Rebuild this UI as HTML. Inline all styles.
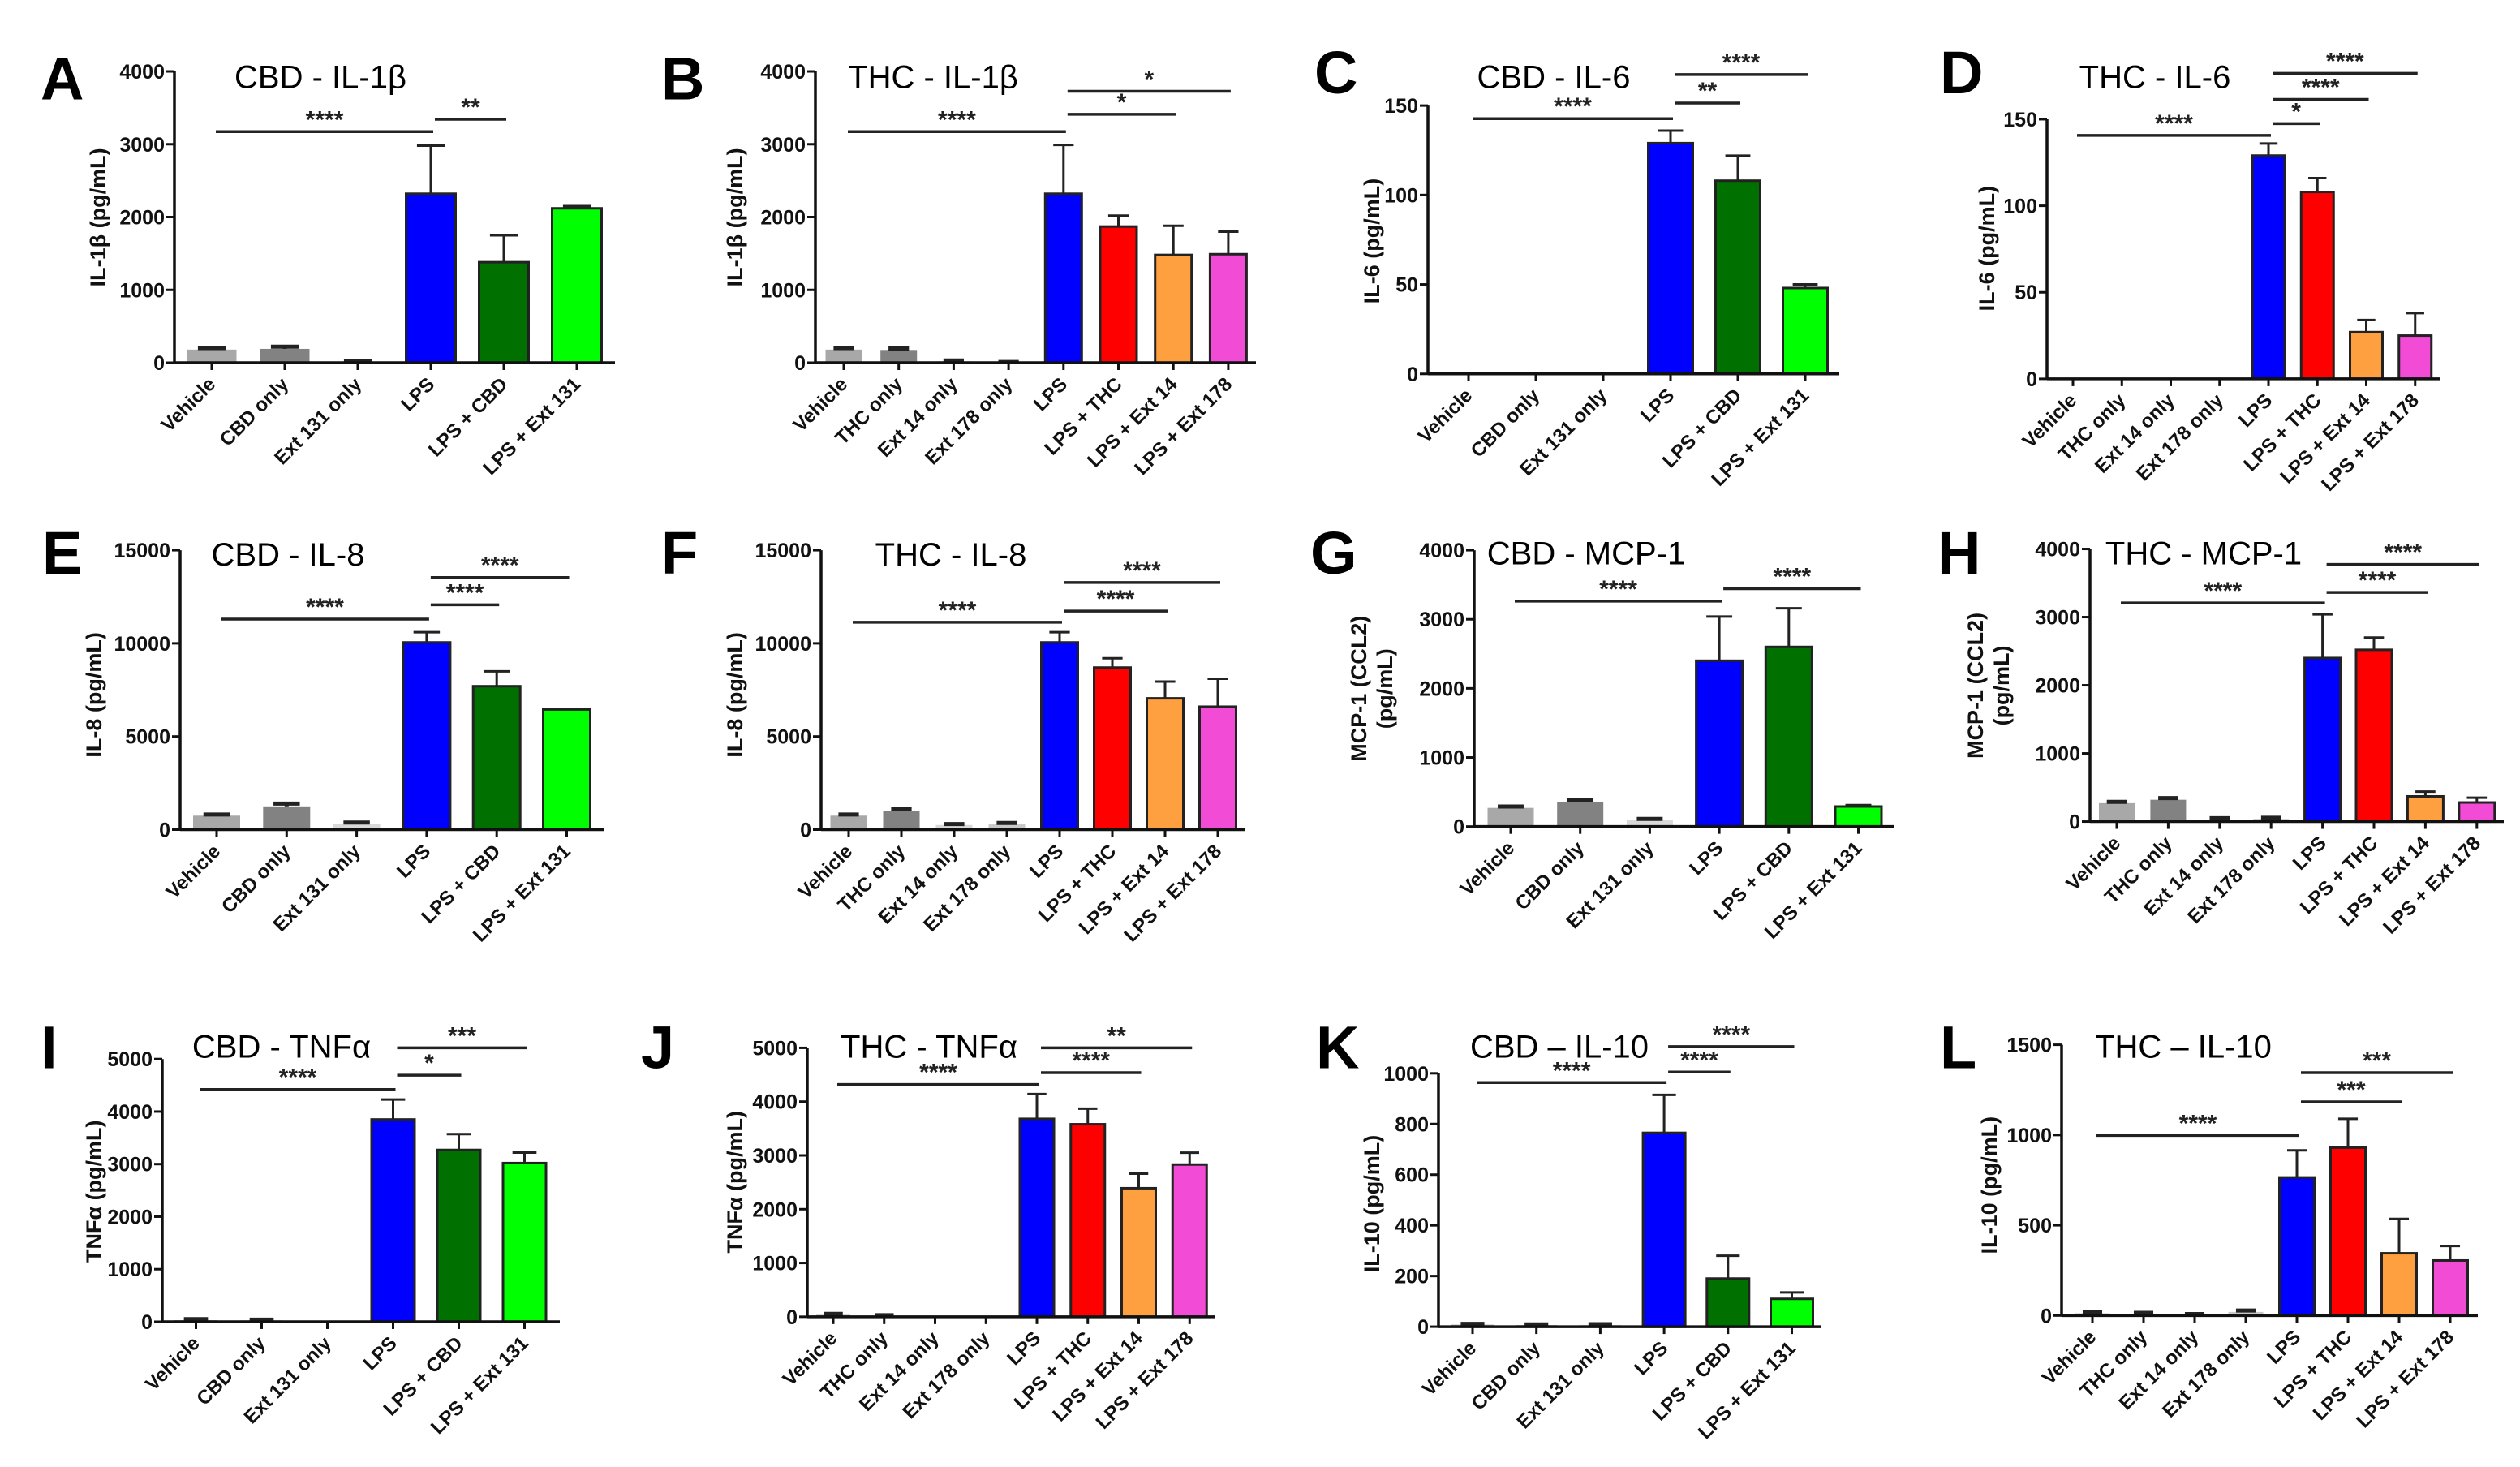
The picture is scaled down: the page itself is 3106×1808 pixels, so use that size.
<!DOCTYPE html>
<html><head><meta charset="utf-8">
<style>
html,body{margin:0;padding:0;background:#fff;overflow:hidden;}
svg{display:block;}
.tick{font-family:"Liberation Sans",sans-serif;font-weight:bold;font-size:25px;fill:#111;}
.xl{font-family:"Liberation Sans",sans-serif;font-weight:bold;font-size:24px;fill:#111;}
.yl{font-family:"Liberation Sans",sans-serif;font-weight:bold;font-size:27px;fill:#111;}
.title{font-family:"Liberation Sans",sans-serif;font-size:40px;fill:#000;}
.letter{font-family:"Liberation Sans",sans-serif;font-weight:bold;font-size:74px;fill:#000;}
.star{font-family:"Liberation Sans",sans-serif;font-weight:bold;font-size:30px;fill:#222;}
</style></head>
<body>
<svg id="fig" width="3106" height="1808" viewBox="0 0 3106 1808" xmlns="http://www.w3.org/2000/svg"></svg>
<script>
// ---- categories ----
const labelsCBD = ["Vehicle","CBD only","Ext 131 only","LPS","LPS + CBD","LPS + Ext 131"];
const labelsTHC = ["Vehicle","THC only","Ext 14 only","Ext 178 only","LPS","LPS + THC","LPS + Ext 14","LPS + Ext 178"];
const colorsCBD = ["#a8a8a8","#828282","#d9d9d9","#0000ff","#007000","#00ff00"];
const colorsTHC = ["#a8a8a8","#828282","#d9d9d9","#c8c8c8","#0000ff","#ff0000","#ffa040","#f24bd6"];

// ---- series values (means) and errors (SEM, upward) ----
const valuesA = [180,190,15,2320,1380,2120];
const errorsA = [20,30,10,660,370,30];
const ticksA = [0,1000,2000,3000,4000];
const sigA = [[0,3,"****"],[3,4,"**"]];

const valuesB = [180,175,20,5,2320,1870,1480,1490];
const errorsB = [20,20,10,5,670,150,400,310];
const ticksB = [0,1000,2000,3000,4000];
const sigB = [[0,4,"****"],[4,6,"*"],[4,7,"*"]];

const valuesC = [0.5,0.5,0.5,129,108,48];
const errorsC = [0,0,0,7,14,2];
const ticksC = [0,50,100,150];
const sigC = [[0,3,"****"],[3,4,"**"],[3,5,"****"]];

const valuesD = [0.5,0.5,0.5,0.5,129,108,27,25];
const errorsD = [0,0,0,0,7,8,7,13];
const ticksD = [0,50,100,150];
const sigD = [[0,4,"****"],[4,5,"*"],[4,6,"****"],[4,7,"****"]];

const valuesE = [750,1250,320,10050,7700,6450];
const errorsE = [60,150,60,550,800,30];
const ticksE = [0,5000,10000,15000];
const sigE = [[0,3,"****"],[3,4,"****"],[3,5,"****"]];

const valuesF = [750,1000,250,280,10050,8700,7050,6600];
const errorsF = [60,100,50,80,550,500,900,1500];
const ticksF = [0,5000,10000,15000];
const sigF = [[0,4,"****"],[4,6,"****"],[4,7,"****"]];

const valuesG = [270,360,100,2400,2600,290];
const errorsG = [20,30,10,640,560,20];
const ticksG = [0,1000,2000,3000,4000];
const sigG = [[0,3,"****"],[3,5,"****"]];

const valuesH = [270,320,30,40,2400,2520,370,280];
const errorsH = [20,25,20,15,640,180,70,70];
const ticksH = [0,1000,2000,3000,4000];
const sigH = [[0,4,"****"],[4,6,"****"],[4,7,"****"]];

const valuesI = [30,25,0,3850,3270,3020];
const errorsI = [20,15,0,380,300,200];
const ticksI = [0,1000,2000,3000,4000,5000];
const sigI = [[0,3,"****"],[3,4,"*"],[3,5,"***"]];

const valuesJ = [35,20,0,0,3680,3580,2390,2830];
const errorsJ = [20,10,0,0,460,290,270,220];
const ticksJ = [0,1000,2000,3000,4000,5000];
const sigJ = [[0,4,"****"],[4,6,"****"],[4,7,"**"]];

const valuesK = [8,6,7,765,190,110];
const errorsK = [3,3,3,150,90,25];
const ticksK = [0,200,400,600,800,1000];
const sigK = [[0,3,"****"],[3,4,"****"],[3,5,"****"]];

const valuesL = [12,10,5,20,765,930,345,305];
const errorsL = [5,5,3,8,150,160,190,80];
const ticksL = [0,500,1000,1500];
const sigL = [[0,4,"****"],[4,6,"***"],[4,7,"***"]];

// ---- layout (pixel geometry only; vertical values measured on a stretched grid, corrected below) ----
const panels = [
 {id:"A",oy:0,title:"CBD - IL-1\u03b2",ylab:["IL-1\u03b2  (pg/mL)"],vals:valuesA,errs:errorsA,ticks:ticksA,sig:sigA,cats:labelsCBD,cols:colorsCBD,
  ax:215,y0:584,yt:115,xe:758,c0:261,sp:90,bw:61,tx:395,ty:142,lx:50,ly:160,ylx:120,yly:350,sy:[212,192]},
 {id:"B",oy:0,title:"THC - IL-1\u03b2",ylab:["IL-1\u03b2  (pg/mL)"],vals:valuesB,errs:errorsB,ticks:ticksB,sig:sigB,cats:labelsTHC,cols:colorsTHC,
  ax:1005,y0:584,yt:115,xe:1548,c0:1040,sp:67.7,bw:45,tx:1150,ty:142,lx:815,ly:160,ylx:905,yly:350,sy:[212,184,147]},
 {id:"C",oy:0,title:"CBD - IL-6",ylab:["IL-6 (pg/mL)"],vals:valuesC,errs:errorsC,ticks:ticksC,sig:sigC,cats:labelsCBD,cols:colorsCBD,
  ax:1760,y0:602,yt:170,xe:2267,c0:1810,sp:83,bw:55,tx:1915,ty:142,lx:1620,ly:150,ylx:1690,yly:388,sy:[191,166,120]},
 {id:"D",oy:0,title:"THC - IL-6",ylab:["IL-6 (pg/mL)"],vals:valuesD,errs:errorsD,ticks:ticksD,sig:sigD,cats:labelsTHC,cols:colorsTHC,
  ax:2523,y0:610,yt:192,xe:3008,c0:2555,sp:60.25,bw:40,tx:2656,ty:142,lx:2391,ly:150,ylx:2448,yly:400,sy:[218,199,160,118]},
 {id:"E",oy:600,title:"CBD - IL-8",ylab:["IL-8 (pg/mL)"],vals:valuesE,errs:errorsE,ticks:ticksE,sig:sigE,cats:labelsCBD,cols:colorsCBD,
  ax:222,y0:1152,yt:702,xe:745,c0:267,sp:86.3,bw:58,tx:355,ty:727,lx:52,ly:740,ylx:115,yly:935,sy:[813,790,746]},
 {id:"F",oy:600,title:"THC - IL-8",ylab:["IL-8 (pg/mL)"],vals:valuesF,errs:errorsF,ticks:ticksF,sig:sigF,cats:labelsTHC,cols:colorsTHC,
  ax:1012,y0:1152,yt:702,xe:1535,c0:1046,sp:65,bw:45,tx:1172,ty:727,lx:815,ly:740,ylx:905,yly:935,sy:[818,800,754]},
 {id:"G",oy:600,title:"CBD - MCP-1",ylab:["MCP-1 (CCL2)","(pg/mL)"],vals:valuesG,errs:errorsG,ticks:ticksG,sig:sigG,cats:labelsCBD,cols:colorsCBD,
  ax:1817,y0:1147,yt:702,xe:2335,c0:1862,sp:85.7,bw:57,tx:1955,ty:725,lx:1615,ly:740,ylx:1690,yly:925,sy:[784,764]},
 {id:"H",oy:600,title:"THC - MCP-1",ylab:["MCP-1 (CCL2)","(pg/mL)"],vals:valuesH,errs:errorsH,ticks:ticksH,sig:sigH,cats:labelsTHC,cols:colorsTHC,
  ax:2576,y0:1139,yt:700,xe:3086,c0:2609,sp:63.4,bw:44,tx:2716,ty:725,lx:2388,ly:740,ylx:2450,yly:920,sy:[787,770,725]},
 {id:"I",oy:1208,title:"CBD - TNF\u03b1",ylab:["TNF\u03b1  (pg/mL)"],vals:valuesI,errs:errorsI,ticks:ticksI,sig:sigI,cats:labelsCBD,cols:colorsCBD,
  ax:200,y0:1758,yt:1335,xe:690,c0:241.5,sp:81,bw:53,tx:347,ty:1333,lx:50,ly:1350,ylx:115,yly:1548,sy:[1384,1361,1317]},
 {id:"J",oy:1208,title:"THC - TNF\u03b1",ylab:["TNF\u03b1  (pg/mL)"],vals:valuesJ,errs:errorsJ,ticks:ticksJ,sig:sigJ,cats:labelsTHC,cols:colorsTHC,
  ax:995,y0:1750,yt:1317,xe:1498,c0:1027,sp:62.75,bw:42,tx:1145,ty:1333,lx:790,ly:1350,ylx:905,yly:1533,sy:[1376,1357,1317]},
 {id:"K",oy:1208,title:"CBD \u2013 IL-10",ylab:["IL-10 (pg/mL)"],vals:valuesK,errs:errorsK,ticks:ticksK,sig:sigK,cats:labelsCBD,cols:colorsCBD,
  ax:1773,y0:1766,yt:1358,xe:2245,c0:1815,sp:78.7,bw:52,tx:1922,ty:1333,lx:1622,ly:1350,ylx:1690,yly:1568,sy:[1373,1356,1315]},
 {id:"L",oy:1208,title:"THC \u2013 IL-10",ylab:["IL-10 (pg/mL)"],vals:valuesL,errs:errorsL,ticks:ticksL,sig:sigL,cats:labelsTHC,cols:colorsTHC,
  ax:2541,y0:1748,yt:1312,xe:3054,c0:2579,sp:63,bw:43,tx:2691,ty:1333,lx:2391,ly:1350,ylx:2451,yly:1538,sy:[1458,1404,1357]}
];
const VS = 0.7654;

const NS = "http://www.w3.org/2000/svg";
const svg = document.getElementById("fig");
function mk(tag, attrs, parent, text){
  const e = document.createElementNS(NS, tag);
  for (const k in attrs) e.setAttribute(k, attrs[k]);
  if (text !== undefined) e.textContent = text;
  (parent||svg).appendChild(e);
  return e;
}

panels.forEach(p0 => {
  const fy = v => p0.oy + (v - p0.oy) * VS;
  const p = Object.assign({}, p0, {y0:fy(p0.y0), yt:fy(p0.yt), ty:fy(p0.ty), ly:fy(p0.ly), yly:fy(p0.yly), sy:p0.sy.map(fy)});
  const g = mk("g", {});
  
  
  const ymax = p.ticks[p.ticks.length-1];
  const yS = v => p.y0 - v / ymax * (p.y0 - p.yt);
  const xS = i => p.c0 + i * p.sp;

  const L = mk("text", {x:p.lx, y:p.ly, class:"letter"}, g, p.id);
  
  
  const T = mk("text", {x:p.tx, y:p.ty, class:"title", "text-anchor":"middle"}, g, p.title);
  
  

  p.vals.forEach((v, i) => {
    const x = xS(i), top = yS(v);
    const gray = i < p.cats.length - (p.cats.length === 6 ? 3 : 4);
    const r = mk("rect", {x:x - p.bw/2, y:top, width:p.bw, height:Math.max(p.y0 - top, 0.5),
      fill:p.cols[i], stroke:gray ? "none" : "#222", "stroke-width":gray ? 0 : 3}, g);
    
    
    const e = p.errs[i];
    if (e > 0) {
      const et = yS(v + e);
      const ln = mk("path", {d:`M${x},${top} V${et} M${x - p.bw*0.28},${et} H${x + p.bw*0.28}`,
        stroke:"#222", "stroke-width":gray ? 5 : 3, fill:"none"}, g);
      
      
    }
  });

  const ax = mk("path", {d:`M${p.ax},${p.yt} V${p.y0} M${p.ax},${p.y0} H${p.xe}`, stroke:"#111", "stroke-width":3.5, fill:"none"}, g);
  
  
  p.ticks.forEach(t => {
    const y = yS(t);
    mk("line", {x1:p.ax - 10, x2:p.ax, y1:y, y2:y, stroke:"#111", "stroke-width":3}, g);
    const tl = mk("text", {x:p.ax - 12, y:y + 9, class:"tick", "text-anchor":"end"}, g, String(t));
    
    
  });
  p.cats.forEach((c, i) => {
    const x = xS(i);
    mk("line", {x1:x, x2:x, y1:p.y0, y2:p.y0 + 9, stroke:"#111", "stroke-width":3}, g);
    const xl = mk("text", {x:x + 6, y:p.y0 + 28, class:"xl", "text-anchor":"end",
      transform:`rotate(-45 ${x + 6} ${p.y0 + 28})`}, g, c);
    
    
  });

  const n = p.ylab.length;
  p.ylab.forEach((s, k) => {
    const lx = p.ylx + (k - (n - 1) / 2) * 32;
    const yl = mk("text", {x:lx, y:p.yly, class:"yl", "text-anchor":"middle",
      transform:`rotate(-90 ${lx} ${p.yly})`, dy:"10"}, g, s);
    
    
  });

  p.sig.forEach((s, k) => {
    const x1 = xS(s[0]) + 5, x2 = xS(s[1]) + 3, y = p.sy[k];
    const sl = mk("line", {x1:x1, x2:x2, y1:y, y2:y, stroke:"#222", "stroke-width":3.5}, g);
    
    
    const st = mk("text", {x:(x1 + x2) / 2, y:y - 5, class:"star", "text-anchor":"middle"}, g, s[2]);
    
    
  });
});
</script>
</body></html>
